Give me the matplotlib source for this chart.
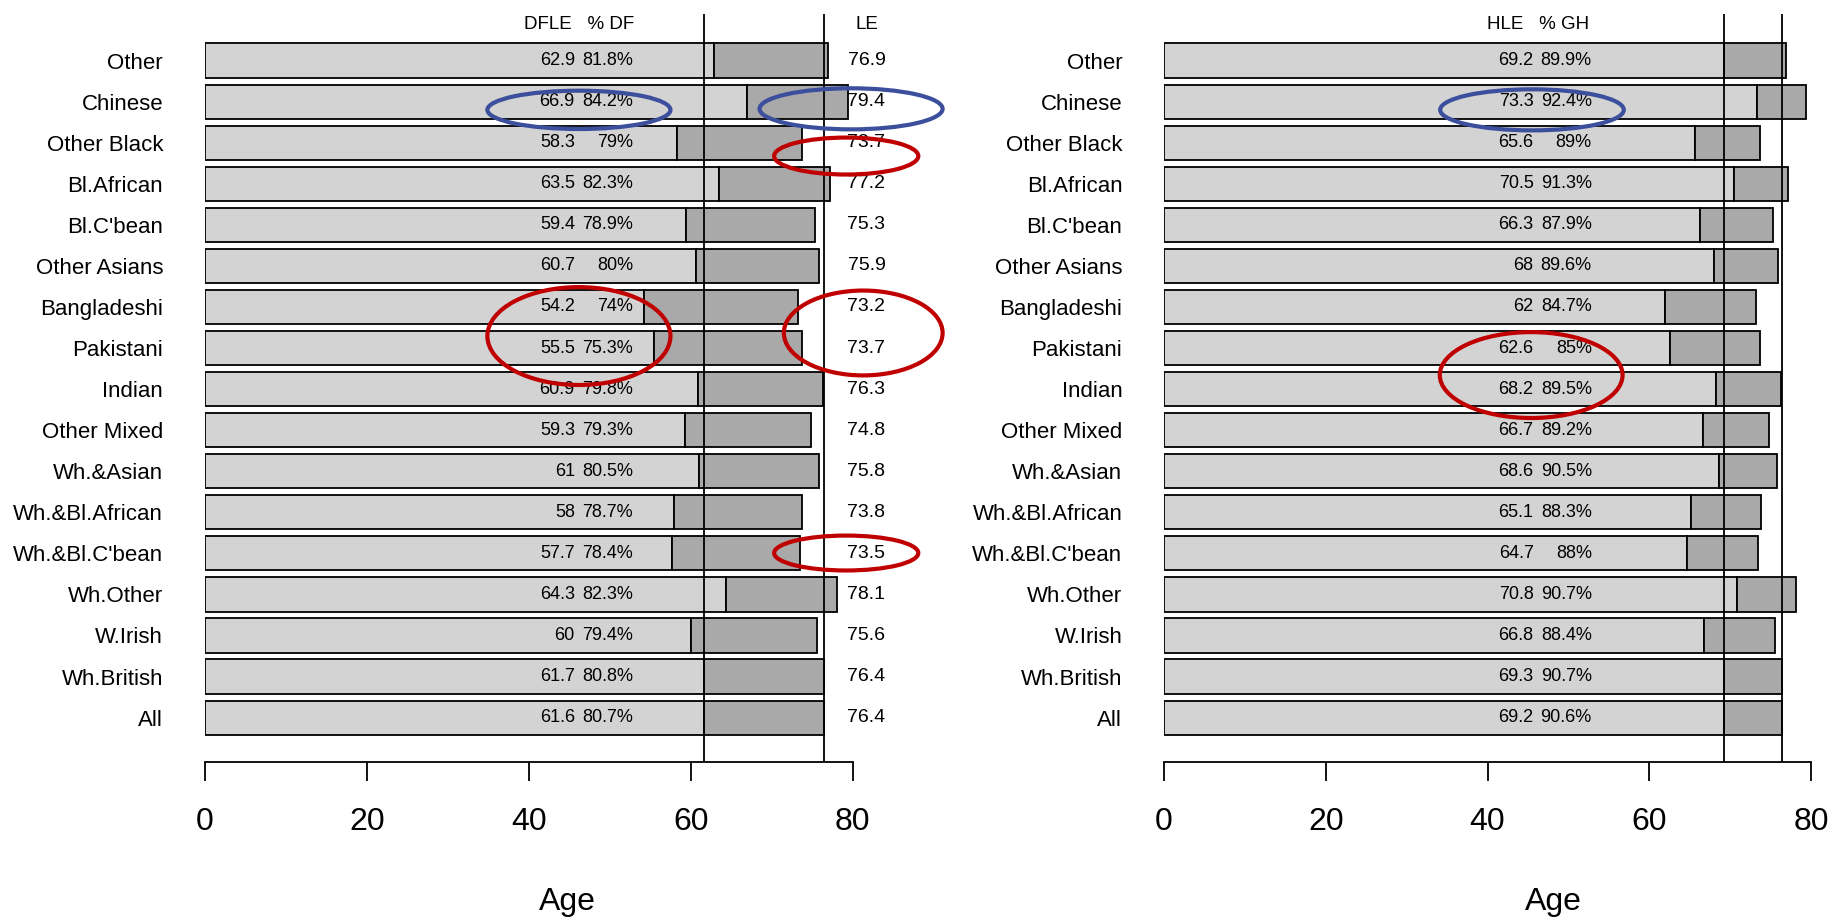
import numpy as np
import matplotlib
matplotlib.use("Agg")
import matplotlib.pyplot as plt
from matplotlib.patches import Ellipse

plt.rcParams['font.family'] = ['Liberation Sans', 'DejaVu Sans']

# groups, top to bottom as printed
groups = ["Other", "Chinese", "Other Black", "Bl.African", "Bl.C'bean", "Other Asians",
          "Bangladeshi", "Pakistani", "Indian", "Other Mixed", "Wh.&Asian",
          "Wh.&Bl.African", "Wh.&Bl.C'bean", "Wh.Other", "W.Irish", "Wh.British", "All"]

le = [76.9, 79.4, 73.7, 77.2, 75.3, 75.9, 73.2, 73.7, 76.3, 74.8, 75.8,
      73.8, 73.5, 78.1, 75.6, 76.4, 76.4]
dfle = [62.9, 66.9, 58.3, 63.5, 59.4, 60.7, 54.2, 55.5, 60.9, 59.3, 61,
        58, 57.7, 64.3, 60, 61.7, 61.6]
pct_df = [81.8, 84.2, 79, 82.3, 78.9, 80, 74, 75.3, 79.8, 79.3, 80.5,
          78.7, 78.4, 82.3, 79.4, 80.8, 80.7]
hle = [69.2, 73.3, 65.6, 70.5, 66.3, 68, 62, 62.6, 68.2, 66.7, 68.6,
       65.1, 64.7, 70.8, 66.8, 69.3, 69.2]
pct_gh = [89.9, 92.4, 89, 91.3, 87.9, 89.6, 84.7, 85, 89.5, 89.2, 90.5,
          88.3, 88, 90.7, 88.4, 90.7, 90.6]

x_ticks = [0, 20, 40, 60, 80]

# highlighted rows: (panel, centre age, centre row, width, height, colour)
highlights = [
    (0, 46.2, 18.46, 22.6, 1.12, "#3c4f9c"),
    (0, 79.8, 18.49, 22.6, 1.20, "#3c4f9c"),
    (0, 79.2, 17.11, 17.8, 1.08, "#c00000"),
    (0, 46.2, 11.85, 22.6, 2.86, "#c00000"),
    (0, 81.3, 11.94, 19.6, 2.48, "#c00000"),
    (0, 79.2, 5.51, 17.8, 1.02, "#c00000"),
    (1, 45.5, 18.46, 22.7, 1.20, "#3c4f9c"),
    (1, 45.4, 10.71, 22.6, 2.51, "#c00000"),
]

def fmt(v):
    return f"{v:g}"

fig = plt.figure(figsize=(18.31, 9.17), dpi=100)
ax1 = fig.add_axes([0.1118, 0.1685, 0.3539, 0.8162])
ax2 = fig.add_axes([0.6357, 0.1685, 0.3534, 0.8162])

n = len(groups)
# barplot-style positions: width 1, gap 0.2, first bar (All) at the bottom
ypos = np.arange(n)[::-1] * 1.2 + 0.7


def draw_panel(ax, healthy, pct, header, label_x):
    healthy = np.array(healthy)
    total = np.array(le)
    ax.barh(ypos, healthy, height=1, color="#d3d3d3", edgecolor="black", linewidth=1.3)
    ax.barh(ypos, total - healthy, left=healthy, height=1, color="#a9a9a9",
            edgecolor="black", linewidth=1.3)
    # reference lines from the "All" row
    ax.axvline(healthy[-1], color="black", lw=1.3)
    ax.axvline(total[-1], color="black", lw=1.3)

    for y, h, p in zip(ypos, healthy, pct):
        ax.text(45.7, y, fmt(h), ha="right", va="center", fontsize=13, clip_on=False)
        ax.text(52.9, y, fmt(p) + "%", ha="right", va="center", fontsize=13, clip_on=False)
    ax.text(46.2, 20.94, header, ha="center", va="center", fontsize=13.5, clip_on=False)

    ax.set_xlim(0, 80)
    ax.set_ylim(-0.611, 21.26)
    ax.set_yticks(ypos)
    ax.set_yticklabels(groups, fontsize=16)
    ax.tick_params(axis="y", length=0, pad=30)
    ax.set_xticks(x_ticks)
    ax.tick_params(axis="x", length=13.7, width=1.3, labelsize=23, pad=18)
    for s in ["left", "right", "top"]:
        ax.spines[s].set_visible(False)
    ax.spines["bottom"].set_linewidth(1.3)
    ax.set_xlabel("Age", fontsize=23)
    ax.xaxis.set_label_coords(label_x, -0.186)
    ax.xaxis.label.set_va("center")


draw_panel(ax1, dfle, pct_df, "DFLE   % DF", 0.559)
draw_panel(ax2, hle, pct_gh, "HLE   % GH", 0.6025)

# life expectancy column on the left panel
for y, v in zip(ypos, le):
    ax1.text(81.7, y, fmt(v), ha="center", va="center", fontsize=14, clip_on=False)
ax1.text(81.7, 20.94, "LE", ha="center", va="center", fontsize=13.5, clip_on=False)

axes = [ax1, ax2]
for panel, cx, cy, w, h, col in highlights:
    e = Ellipse((cx, cy), w, h, fill=False, edgecolor=col, linewidth=3.0,
                clip_on=False, zorder=5)
    axes[panel].add_patch(e)

fig.savefig("out.png", dpi=100)
